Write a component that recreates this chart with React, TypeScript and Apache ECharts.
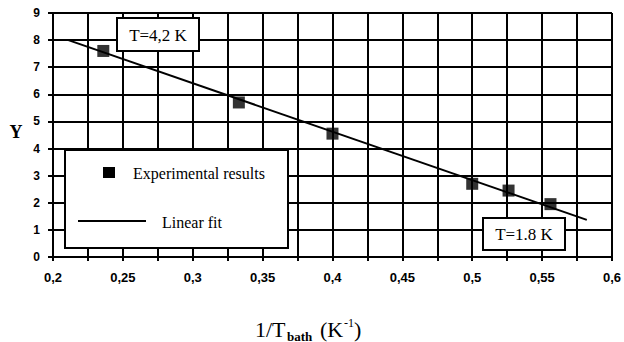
import React, { useEffect, useRef } from "react";
import * as echarts from "echarts";

const expX = [0.236, 0.333, 0.4, 0.5, 0.526, 0.556];
const expY = [7.6, 5.7, 4.55, 2.7, 2.45, 1.95];
const fitX = [0.211, 0.582];
const fitY = [8.0, 1.37];
const annotations = ["T=4,2 K", "T=1.8 K"];
const legendNames = ["Experimental results", "Linear fit"];

const fmtX = (v: number) => {
  const s = (Math.round(v * 1000) / 1000).toString();
  return s.replace(".", ",");
};

export default function App() {
  const ref = useRef<HTMLDivElement>(null);
  useEffect(() => {
    if (!ref.current) return;
    const chart = echarts.init(ref.current, null, { renderer: "svg" });
    const serif = "'Liberation Serif', 'DejaVu Serif', serif";
    const sans = "'Liberation Sans', Arial, sans-serif";
    const gridLine = { color: "#000", width: 2 };
    const txt = (text: string, x: number, y: number, font: string) => ({
      type: "text",
      x,
      y,
      style: { text, font, fill: "#000", verticalAlign: "middle", align: "left" },
      z: 11,
    });
    chart.setOption({
      animation: false,
      backgroundColor: "#fff",
      grid: { left: 53, right: 10, top: 13, bottom: 85 },
      xAxis: {
        type: "value",
        min: 0.2,
        max: 0.6,
        interval: 0.05,
        axisLine: { show: true, onZero: false, lineStyle: gridLine },
        axisTick: { show: true, length: 4, lineStyle: gridLine },
        minorTick: { show: true, splitNumber: 2, length: 4, lineStyle: gridLine },
        splitLine: { show: true, lineStyle: gridLine },
        minorSplitLine: { show: true, lineStyle: gridLine },
        axisLabel: {
          formatter: fmtX,
          color: "#000",
          fontFamily: sans,
          fontWeight: "bold",
          fontSize: 13,
          margin: 14,
        },
      },
      yAxis: {
        type: "value",
        min: 0,
        max: 9,
        interval: 1,
        axisLine: { show: true, lineStyle: gridLine },
        axisTick: { show: true, length: 5, lineStyle: gridLine },
        splitLine: { show: true, lineStyle: gridLine },
        axisLabel: {
          color: "#000",
          fontFamily: sans,
          fontWeight: "bold",
          fontSize: 12,
          margin: 13,
        },
      },
      series: [
        {
          name: legendNames[1],
          type: "line",
          data: fitX.map((x, i) => [x, fitY[i]]),
          showSymbol: false,
          lineStyle: { color: "#000", width: 2 },
          z: 3,
        },
        {
          name: legendNames[0],
          type: "scatter",
          data: expX.map((x, i) => [x, expY[i]]),
          symbol: "rect",
          symbolSize: 12,
          itemStyle: { color: "#000" },
          z: 4,
        },
      ],
      graphic: [
        // Legend box
        {
          type: "rect",
          shape: { x: 65, y: 150, width: 223, height: 98 },
          style: { fill: "#fff", stroke: "#000", lineWidth: 2 },
          z: 10,
        },
        {
          type: "rect",
          shape: { x: 103, y: 167, width: 12, height: 11 },
          style: { fill: "#000" },
          z: 11,
        },
        {
          type: "text",
          x: 133,
          y: 173,
          style: {
            text: legendNames[0],
            font: `16px ${serif}`,
            fill: "#000",
            verticalAlign: "middle",
          },
          z: 11,
        },
        {
          type: "line",
          shape: { x1: 78, y1: 221, x2: 146, y2: 221 },
          style: { stroke: "#000", lineWidth: 2 },
          z: 11,
        },
        {
          type: "text",
          x: 162,
          y: 222,
          style: {
            text: legendNames[1],
            font: `16px ${serif}`,
            fill: "#000",
            verticalAlign: "middle",
          },
          z: 11,
        },
        // Annotation boxes
        {
          type: "rect",
          shape: { x: 117, y: 18, width: 82, height: 33 },
          style: { fill: "#fff", stroke: "#000", lineWidth: 2 },
          z: 10,
        },
        {
          type: "text",
          x: 158,
          y: 35,
          style: {
            text: annotations[0],
            font: `17px ${serif}`,
            fill: "#000",
            align: "center",
            verticalAlign: "middle",
          },
          z: 11,
        },
        {
          type: "rect",
          shape: { x: 483, y: 218, width: 82, height: 32 },
          style: { fill: "#fff", stroke: "#000", lineWidth: 2 },
          z: 10,
        },
        {
          type: "text",
          x: 524,
          y: 234,
          style: {
            text: annotations[1],
            font: `17px ${serif}`,
            fill: "#000",
            align: "center",
            verticalAlign: "middle",
          },
          z: 11,
        },
        // Y axis name
        {
          type: "text",
          x: 16,
          y: 132,
          style: {
            text: "Y",
            font: `bold 18px ${serif}`,
            fill: "#000",
            align: "center",
            verticalAlign: "middle",
          },
        },
        // X axis name: 1/T_bath (K^-1)
        txt("1/T", 255, 329, `22px ${serif}`),
        txt("bath", 287, 336, `bold 13px ${serif}`),
        txt("(K", 320, 329, `22px ${serif}`),
        txt("-1", 344, 323, `12px ${serif}`),
        txt(")", 354, 329, `22px ${serif}`),
      ],
    });
    return () => chart.dispose();
  }, []);
  return (
    <div
      ref={ref}
      style={{ position: "absolute", left: 0, top: 0, width: 624, height: 342 }}
    />
  );
}
